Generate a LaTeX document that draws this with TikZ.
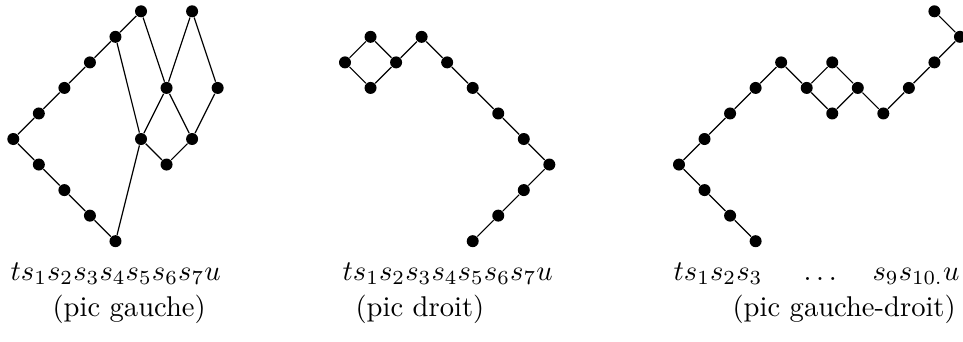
\documentclass[tikz,border=0pt]{standalone}
\begin{document}
\begin{tikzpicture}[x=0.35pt,y=-0.35pt,
  dot/.style={circle,fill=black,inner sep=0pt,minimum size=4.2pt},
  lnk/.style={line width=0.42pt},
  lbl/.style={anchor=base west,inner sep=0pt}]
\useasboundingbox (0,0) rectangle (963,341);
% ---------- diagram 1
\begin{scope}[shift={(13.3,139)},x=8.94pt,y=8.94pt]
\node[dot] (a0) at (0,0) {};
\node[dot] (a1) at (1,1) {};
\node[dot] (a2) at (2,2) {};
\node[dot] (a3) at (3,3) {};
\node[dot] (a4) at (4,4) {};
\node[dot] (a5) at (5,5) {};
\node[dot] (b5) at (7,5) {};
\node[dot] (c) at (6,2) {};
\node[dot] (d) at (8,2) {};
\node[dot] (e) at (5,0) {};
\node[dot] (f) at (7,0) {};
\node[dot] (g) at (6,-1) {};
\node[dot] (l1) at (1,-1) {};
\node[dot] (l2) at (2,-2) {};
\node[dot] (l3) at (3,-3) {};
\node[dot] (l4) at (4,-4) {};
\draw[lnk] (a0)--(a1)--(a2)--(a3)--(a4)--(a5);
\draw[lnk] (a0)--(l1)--(l2)--(l3)--(l4);
\draw[lnk] (a5)--(c); \draw[lnk] (a4)--(e); \draw[lnk] (e)--(l4);
\draw[lnk] (b5)--(c); \draw[lnk] (b5)--(d);
\draw[lnk] (c)--(e); \draw[lnk] (c)--(f); \draw[lnk] (d)--(f);
\draw[lnk] (e)--(g); \draw[lnk] (g)--(f);
\end{scope}
% ---------- diagram 2
\begin{scope}[shift={(345,139)},x=8.94pt,y=8.94pt]
\node[dot] (p0) at (0,3) {};
\node[dot] (p1) at (1,4) {};
\node[dot] (p2) at (2,3) {};
\node[dot] (p3) at (1,2) {};
\node[dot] (q1) at (3,4) {};
\node[dot] (q2) at (4,3) {};
\node[dot] (q3) at (5,2) {};
\node[dot] (q4) at (6,1) {};
\node[dot] (q5) at (7,0) {};
\node[dot] (q6) at (8,-1) {};
\node[dot] (q7) at (7,-2) {};
\node[dot] (q8) at (6,-3) {};
\node[dot] (q9) at (5,-4) {};
\draw[lnk] (p0)--(p1)--(p2)--(p3)--(p0);
\draw[lnk] (p2)--(q1)--(q2)--(q3)--(q4)--(q5)--(q6)--(q7)--(q8)--(q9);
\end{scope}
% ---------- diagram 3
\begin{scope}[shift={(679,139)},x=8.94pt,y=8.94pt]
\node[dot] (r0) at (0,-1) {};
\node[dot] (r1) at (1,0) {};
\node[dot] (r2) at (2,1) {};
\node[dot] (r3) at (3,2) {};
\node[dot] (r4) at (4,3) {};
\node[dot] (r5) at (5,2) {};
\node[dot] (r6) at (6,3) {};
\node[dot] (r7) at (6,1) {};
\node[dot] (r8) at (7,2) {};
\node[dot] (r9) at (8,1) {};
\node[dot] (r10) at (9,2) {};
\node[dot] (r11) at (10,3) {};
\node[dot] (r12) at (11,4) {};
\node[dot] (r13) at (10,5) {};
\node[dot] (m1) at (1,-2) {};
\node[dot] (m2) at (2,-3) {};
\node[dot] (m3) at (3,-4) {};
\draw[lnk] (r0)--(r1)--(r2)--(r3)--(r4)--(r5)--(r6)--(r8)--(r9)--(r10)--(r11)--(r12)--(r13);
\draw[lnk] (r5)--(r7)--(r8);
\draw[lnk] (r0)--(m1)--(m2)--(m3);
\end{scope}
% ---------- labels
\node[lbl] (w1) at (10,280) {$ts_1s_2s_3s_4s_5s_6s_7u$};
\node[lbl] (n1) at (52,316) {(pic gauche)};
\node[lbl] (w2) at (342,280) {$ts_1s_2s_3s_4s_5s_6s_7u$};
\node[lbl] (n2) at (355,316) {(pic droit)};
\node[lbl] (w3a) at (673,280) {$ts_1s_2s_3$};
\node[lbl] (w3b) at (803,280) {$\ldots$};
\node[lbl] (w3c) at (872,280) {$s_9s_{10.}u$};
\node[lbl] (n3) at (732,316) {(pic gauche-droit)};
\end{tikzpicture}
\end{document}
